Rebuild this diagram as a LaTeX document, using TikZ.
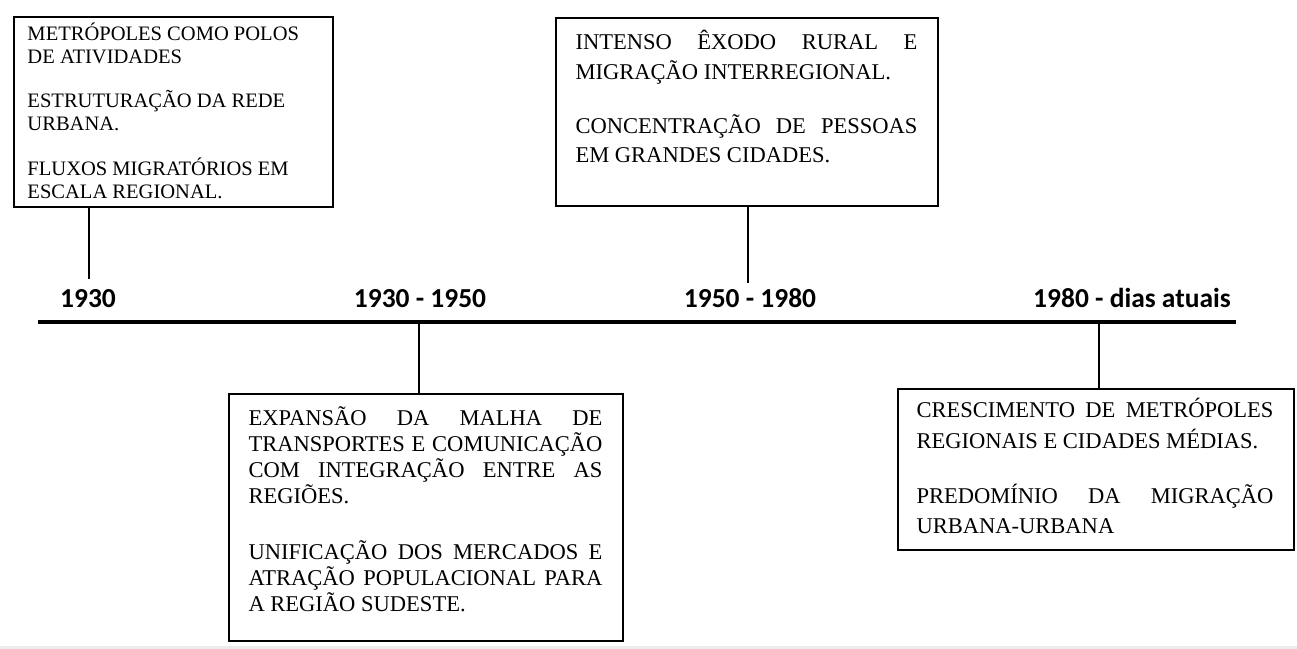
\documentclass[tikz,border=0pt]{standalone}
\usepackage{fontspec}
\setmainfont{Liberation Serif}
\newfontfamily\yearfont{Carlito}
\usetikzlibrary{positioning}

\tikzset{every picture/.style={line width=0.75pt}}

\begin{document}
\begin{tikzpicture}[x=0.75pt,y=0.75pt,yscale=-1,xscale=1,
  eventbox/.style={draw, line width=1.5pt, inner sep=0pt, anchor=north west},
  eventtext/.style={inner sep=0pt, anchor=north west, align=justify, font=\fontsize{16.9pt}{22.1pt}\selectfont},
  yearlabel/.style={inner sep=0pt, anchor=base, font=\yearfont\bfseries\fontsize{20.6pt}{24pt}\selectfont},
  tick/.style={line width=1.5pt}]
\useasboundingbox (0,0) rectangle (1297,649);
%Shape: Rectangle (bottom strip)
\fill [color={rgb, 255:red, 236; green, 236; blue, 236 }] (0,646) rectangle (1297,649);

%Shape: Line (time axis)
\coordinate (axisL) at (38,322);
\coordinate (axisR) at (1236,322);
\draw [line width=3pt] (axisL) -- (axisR);

%Shape: Rectangle [1930]
\node [eventbox, minimum width=239.25pt, minimum height=142.5pt] (box30) at (13,16) {};
% Text Node
\node [eventtext, align=left, font=\fontsize{15.4pt}{17.25pt}\selectfont] (txt30) at (27,22) {METRÓPOLES COMO POLOS\\ DE ATIVIDADES\\[16.1pt] ESTRUTURAÇÃO DA REDE\\ URBANA.\\[16.1pt] FLUXOS MIGRATÓRIOS EM\\ ESCALA REGIONAL.};

%Shape: Rectangle [1950 - 1980]
\node [eventbox, minimum width=286.5pt, minimum height=141pt] (box5080) at (555,17) {};
% Text Node
\node [eventtext, text width=256.5pt] (txt5080) at (575,30) {INTENSO ÊXODO RURAL E\linebreak MIGRAÇÃO INTERREGIONAL.\\[18.4pt] CONCENTRAÇÃO DE PESSOAS\linebreak EM GRANDES CIDADES.};

%Shape: Rectangle [1930 - 1950]
\node [eventbox, minimum width=295.5pt, minimum height=185.25pt] (box3050) at (228,393) {};
% Text Node
\node [eventtext, text width=265.5pt, font=\fontsize{16.9pt}{19.5pt}\selectfont] (txt3050) at (248,406) {EXPANSÃO DA MALHA DE\linebreak TRANSPORTES E COMUNICAÇÃO\linebreak COM INTEGRAÇÃO ENTRE AS\linebreak REGIÕES.\\[22.5pt] UNIFICAÇÃO DOS MERCADOS E\linebreak ATRAÇÃO POPULACIONAL PARA\linebreak A REGIÃO SUDESTE.};

%Shape: Rectangle [1980 - dias atuais]
\node [eventbox, minimum width=297pt, minimum height=120.75pt] (box80) at (897,388) {};
% Text Node
\node [eventtext, text width=267.75pt, font=\fontsize{16.9pt}{22.9pt}\selectfont] (txt80) at (916,398) {CRESCIMENTO DE METRÓPOLES\linebreak REGIONAIS E CIDADES MÉDIAS.\\[18.4pt] PREDOMÍNIO DA MIGRAÇÃO\linebreak URBANA-URBANA};

% Text Node (years)
\node [yearlabel] (lbl30) at (88,307) {1930};
\node [yearlabel] (lbl3050) at (420,307) {1930 - 1950};
\node [yearlabel] (lbl5080) at (750,307) {1950 - 1980};
\node [yearlabel] (lbl80) at (1132,307) {1980 - dias atuais};

%Shape: Lines (ticks)
\coordinate (tick30) at (89,279);
\coordinate (tick5080) at (748,283);
\coordinate (tick3050) at (419,322);
\coordinate (tick80) at (1099,322);
\draw [tick] (box30.south -| tick30) -- (tick30);
\draw [tick] (box5080.south -| tick5080) -- (tick5080);
\draw [tick] (tick3050) -- (tick3050 |- box3050.north);
\draw [tick] (tick80) -- (tick80 |- box80.north);
\end{tikzpicture}
\end{document}
